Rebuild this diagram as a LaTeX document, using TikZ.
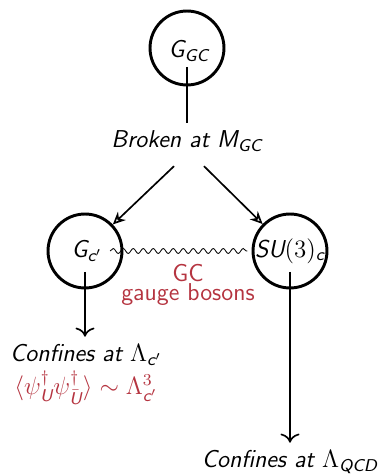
\documentclass[tikz,border=0pt]{standalone}
\usepackage{amsmath,amssymb}
\usepackage{tikz}
\usetikzlibrary{calc}
\usetikzlibrary{arrows.meta}
\usetikzlibrary{decorations.pathmorphing}
\renewcommand{\familydefault}{\sfdefault}
\newcommand{\mi}[1]{\text{\sffamily\itshape #1}}
\definecolor{bosonred}{RGB}{181,52,64}

\begin{document}
\begin{tikzpicture}[x=0.48pt,y=0.48pt,thick,font=\fontsize{11.7pt}{14pt}\selectfont]
        \tikzset{ring/.style={draw,circle,line width=1.4pt,minimum size=35.5pt,inner sep=0pt}}
        \tikzset{down/.style={-{To[scale=1.3]}}}
        \tikzset{split/.style={-{Stealth[open,length=6pt,width=5.5pt]}}}
        \useasboundingbox (0,0) rectangle (379,474);

        % the three groups
        \node[ring] (ggc) at (187,426) {};
        \node[ring] (gcp) at (85,223) {};
        \node[ring] (suc) at (290,223) {};
        \node (ggct) at (189,423) {$\mi{G}_{\mi{GC}}$};
        \node (gcpt) at (87,223) {$\mi{G}_{\mi{c}'}$};
        \node (suct) at (290,223) {$\mi{SU}(3)_{\mi{c}}$};

        \node (broken) at (187,333) {\itshape Broken at $\mi{M}_{\mi{GC}}$};
        \node[bosonred,align=center] (bosons) at (188,189) {GC\\[-4.5pt]gauge bosons};
        \node (confl) at (86,119) {\itshape Confines at $\Lambda_{\mi{c}'}$};
        \node[bosonred] (cond) at (86,86) {$\langle\psi^\dagger_{\mi{U}}\psi^\dagger_{\bar{\mi{U}}}\rangle\sim\Lambda^3_{\mi{c}'}$};
        \node (confr) at (290,12) {\itshape Confines at $\Lambda_{\mi{QCD}}$};

        \draw ($(ggc.center)+(0,-19)$) -- (ggc.center |- broken.north);
        \draw[split] ($(broken.south)+(-13,-7)$) -- (gcp);
        \draw[split] ($(broken.south)+(17,-7)$) -- (suc);
        \draw[thin,decorate,decoration={snake,amplitude=1.2pt,segment length=4.8pt}] (gcpt.east) -- (suct.west);
        \draw[down] ($(gcp.center)+(0,-21)$) -- (gcp.center |- confl.north);
        \draw[down] ($(suc.center)+(0,-21)$) -- (suc.center |- confr.north);
\end{tikzpicture}
\end{document}
